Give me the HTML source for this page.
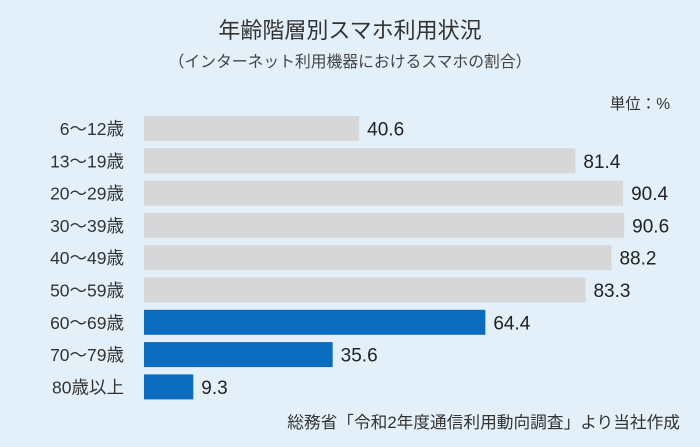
<!DOCTYPE html>
<html><head><meta charset="utf-8"><style>
body{margin:0;width:700px;height:442px;background:#e3eff9;font-family:"Liberation Sans","Noto Sans CJK JP",sans-serif;overflow:hidden}
</style></head><body>
<svg width="700" height="442">
<rect width="700" height="442" fill="#e3eff9"/>
<text x="350" y="38" text-anchor="middle" font-size="22" fill="#333">年齢階層別スマホ利用状況</text>
<text x="350" y="67" text-anchor="middle" font-size="15.8" fill="#444">（インターネット利用機器におけるスマホの割合）</text>
<text x="670" y="109" text-anchor="end" font-size="15.5" fill="#333">単位：%</text>
<g id="bars"></g>
<text x="680" y="428" text-anchor="end" font-size="16.7" fill="#333">総務省「令和2年度通信利用動向調査」より当社作成</text>
</svg>
<script>
const categories=["6～12歳","13～19歳","20～29歳","30～39歳","40～49歳","50～59歳","60～69歳","70～79歳","80歳以上"];
const values=[40.6,81.4,90.4,90.6,88.2,83.3,64.4,35.6,9.3];
const highlighted=[false,false,false,false,false,false,true,true,true];
const x0=144, k=5.3, yTop=116, step=32.3, bh=25;
const xs=v=>x0+v*k, ys=i=>yTop+i*step;
const g=document.getElementById('bars');
const ns='http://www.w3.org/2000/svg';
categories.forEach((c,i)=>{
 const r=document.createElementNS(ns,'rect');
 r.setAttribute('x',x0);r.setAttribute('y',ys(i));r.setAttribute('width',xs(values[i])-x0);r.setAttribute('height',bh);
 r.setAttribute('fill',highlighted[i]?'#0a6cbf':'#d7d7d7');
 
 
 g.appendChild(r);
 const l=document.createElementNS(ns,'text');
 l.setAttribute('x',124);l.setAttribute('y',ys(i)+bh/2+6.5);l.setAttribute('text-anchor','end');l.setAttribute('font-size','17.5');l.setAttribute('fill','#333');
 l.textContent=c;
 
 
 g.appendChild(l);
 const v=document.createElementNS(ns,'text');
 v.setAttribute('x',xs(values[i])+8);v.setAttribute('y',ys(i)+bh/2+7);v.setAttribute('font-size','19');v.setAttribute('fill','#222');
 v.textContent=values[i].toFixed(1);
 
 
 g.appendChild(v);
});
</script>
</body></html>
